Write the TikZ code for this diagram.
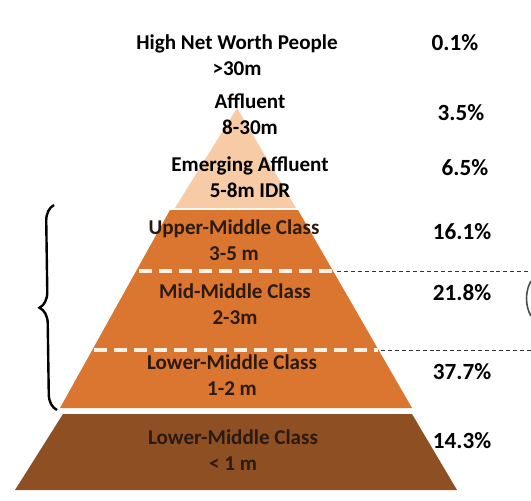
\documentclass[tikz,border=0pt]{standalone}
\usepackage{fontspec}
\setmainfont{Carlito}
\usetikzlibrary{decorations.pathreplacing}
\definecolor{peach}{HTML}{F6CBA6}
\definecolor{midorange}{HTML}{DA7630}
\definecolor{darkbrown}{HTML}{8E4F22}
\definecolor{inktext}{HTML}{2A1A10}

\begin{document}
\begin{tikzpicture}[
    x=0.75pt, y=-0.75pt,
    lbl/.style={align=center, font=\fontsize{15.8}{19.5}\selectfont\bfseries, text=black, inner sep=0pt},
    inlbl/.style={lbl, text=inktext},
    pct/.style={font=\fontsize{17.4}{20}\selectfont\bfseries, inner sep=0pt},
    split/.style={draw=white!90!orange, line width=2.6pt, dash pattern=on 9.5pt off 5.5pt},
    guide/.style={draw=black!80, line width=0.6pt, dash pattern=on 3pt off 2.2pt}
]
\useasboundingbox (0,0) rectangle (531,500);

% Pyramid bands (top to bottom)
\fill[peach] (237,108) -- (296,208) -- (175,208) -- cycle;
\fill[midorange] (170,210) -- (298,210) -- (412,408) -- (60,408) -- cycle;
\fill[darkbrown] (63,414) -- (412,414) -- (457,490) -- (15,490) -- cycle;

% Splits inside the middle band
\draw[split] (139,271) -- (333,271);
\draw[split] (94,350) -- (378,350);

% Guides to the right
\coordinate (G1a) at (337,271);
\coordinate (G1b) at (531,271);
\coordinate (G2a) at (381,350);
\coordinate (G2b) at (531,350);
\draw[guide] (G1a) -- (G1b);
\draw[guide] (G2a) -- (G2b);

% Cut-off bracket at the right edge
\draw[black!70, line width=1.2pt] (531,281) .. controls (525,291) and (525,306) .. (531,316);

% Brace over the middle class bands
\coordinate (Bbot) at (57,410);
\coordinate (Btop) at (54,205);
\draw[decorate, decoration={brace, amplitude=12pt}, line width=1.8pt] (Bbot) -- (Btop);

% Class labels
\node[lbl] (L1) at (237,55) {High Net Worth People\\>30m};
\node[lbl] (L2) at (250,114) {Affluent\\8-30m};
\node[lbl] (L3) at (250,177) {Emerging Affluent\\5-8m IDR};
\node[inlbl] (L4) at (234,240) {Upper-Middle Class\\3-5 m};
\node[inlbl] (L5) at (235,304) {Mid-Middle Class\\2-3m};
\node[inlbl] (L6) at (232,375) {Lower-Middle Class\\1-2 m};
\node[inlbl] (L7) at (233,450) {Lower-Middle Class\\< 1 m};

% Shares
\node[pct] (P1) at (455,43) {0.1\%};
\node[pct] (P2) at (461,113) {3.5\%};
\node[pct] (P3) at (465,168) {6.5\%};
\node[pct] (P4) at (462,232) {16.1\%};
\node[pct] (P5) at (462,293) {21.8\%};
\node[pct] (P6) at (462,372) {37.7\%};
\node[pct] (P7) at (462,441) {14.3\%};

\end{tikzpicture}
\end{document}
